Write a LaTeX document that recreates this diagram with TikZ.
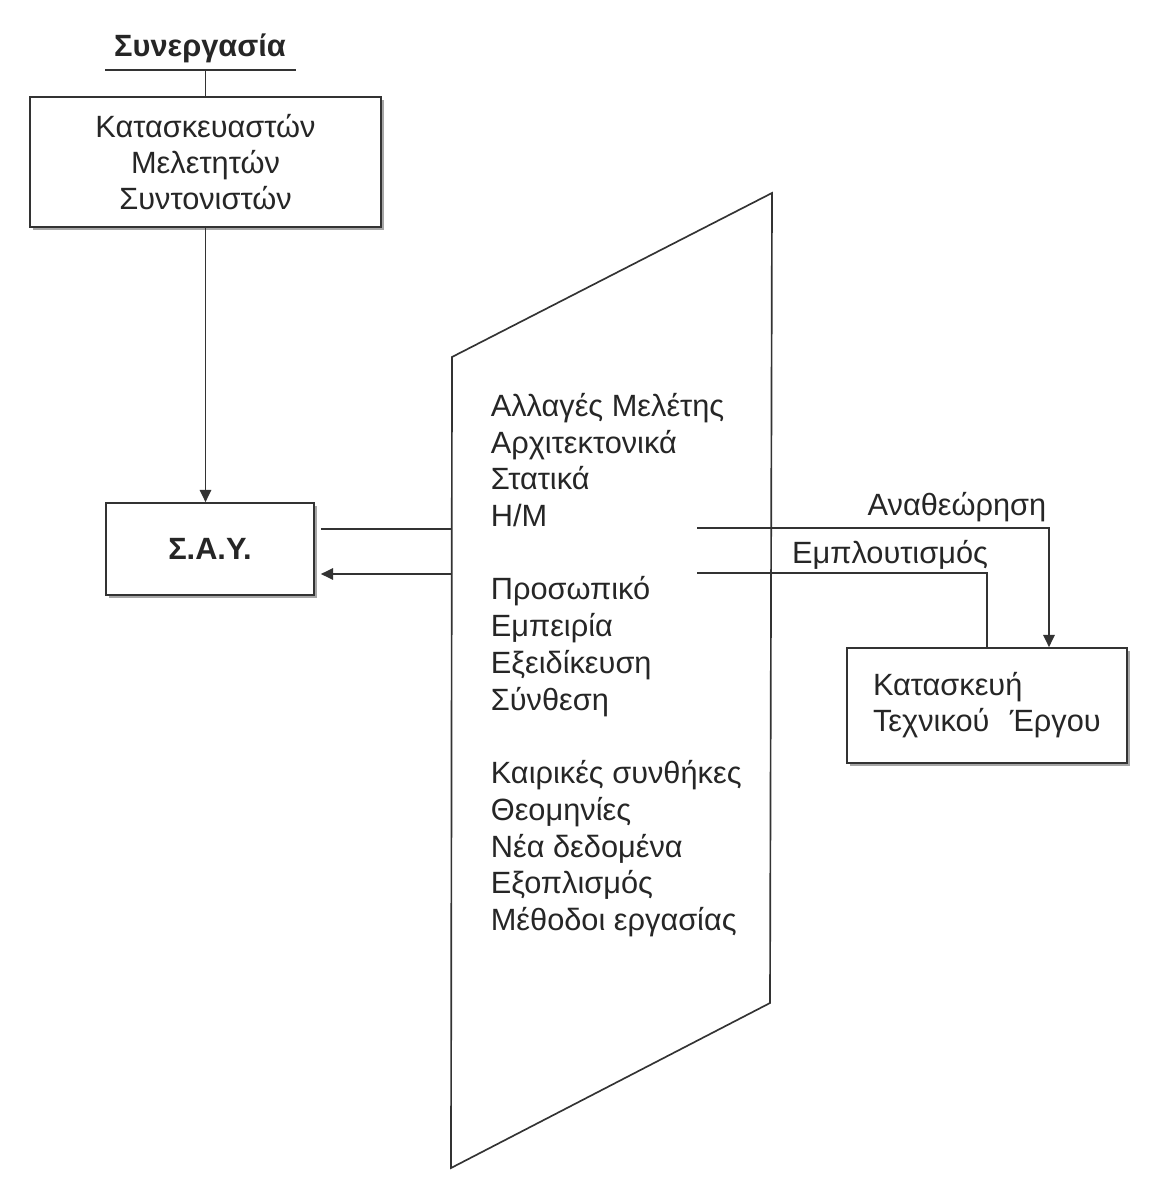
\documentclass[tikz,border=0pt]{standalone}
\usepackage{fontspec}
\setmainfont{Liberation Sans}
\usetikzlibrary{positioning,arrows.meta,shadows}

\begin{document}
\begin{tikzpicture}[x=0.02cm, y=-0.02cm, >={Triangle[length=7pt,width=6.5pt]},
    line width=0.95pt, draw=black!80,
    txt/.style={font=\fontsize{17.5}{20.5}\selectfont, text=black!85, inner sep=0pt},
    box/.style={draw, fill=white, txt, align=center,
        drop shadow={shadow xshift=1.7pt, shadow yshift=-1.7pt, fill=black!35, opacity=1}}]
    \useasboundingbox (0,0) rectangle (1157,1182);

    % 1. Title with underline
    \node[txt, font=\fontsize{17.5}{20.5}\selectfont\bfseries] (title) at (200,48) {Συνεργασία};
    \draw (105,70) coordinate (ulw) -- (296,70) coordinate (ule);

    % 2. Boxes
    \node[box, minimum width=7.02cm, minimum height=2.6cm] (partners) at (205.5,162)
        {Κατασκευαστών\\Μελετητών\\Συντονιστών};
    \node[box, minimum width=4.16cm, minimum height=1.84cm,
        font=\fontsize{17.5}{20.5}\selectfont\bfseries] (say) at (210,549) {Σ.Α.Υ.};
    \node[box, minimum width=5.6cm, minimum height=2.3cm, align=left,
        text width=4.56cm] (build) at (987,705.5) {Κατασκευή\\Τεχνικού\ \ Έργου};

    % 3. The slanted panel
    \coordinate (ptl) at (452,357);
    \coordinate (ptr) at (772,193);
    \coordinate (pbr) at (770,1003);
    \coordinate (pbl) at (451,1168);
    \draw (ptl) -- (ptr) -- (pbr) -- (pbl) -- cycle;

    % 4. Factors written on the panel
    \node[txt, anchor=west, align=left, font=\fontsize{17.5}{20.9}\selectfont] (factors) at (490,665)
        {Αλλαγές Μελέτης\\Αρχιτεκτονικά\\Στατικά\\Η/Μ\\[20.9pt]
         Προσωπικό\\Εμπειρία\\Εξειδίκευση\\Σύνθεση\\[20.9pt]
         Καιρικές συνθήκες\\Θεομηνίες\\Νέα δεδομένα\\Εξοπλισμός\\Μέθοδοι εργασίας};

    % 5. Connectors on the left
    \draw (partners.north) -- (partners.north |- ulw);
    \draw[->] (partners.south) -- (partners.south |- say.north);
    \coordinate (sayR) at ([xshift=0.12cm]say.east);
    \coordinate (pl1) at (451.5,529);
    \coordinate (pl2) at (451.5,574);
    \draw (sayR |- pl1) -- (pl1);
    \draw[->] (pl2) -- (sayR |- pl2);

    % 6. Connectors on the right
    \coordinate (pr1) at (697,528);
    \coordinate (pr2) at (697,573);
    \draw[->] (pr1) -| ([xshift=1.24cm]build.north);
    \draw (pr2) -| (build.north);
    \node[txt] (review) at (957,507) {Αναθεώρηση};
    \node[txt] (enrich) at (890,555) {Εμπλουτισμός};
\end{tikzpicture}
\end{document}
